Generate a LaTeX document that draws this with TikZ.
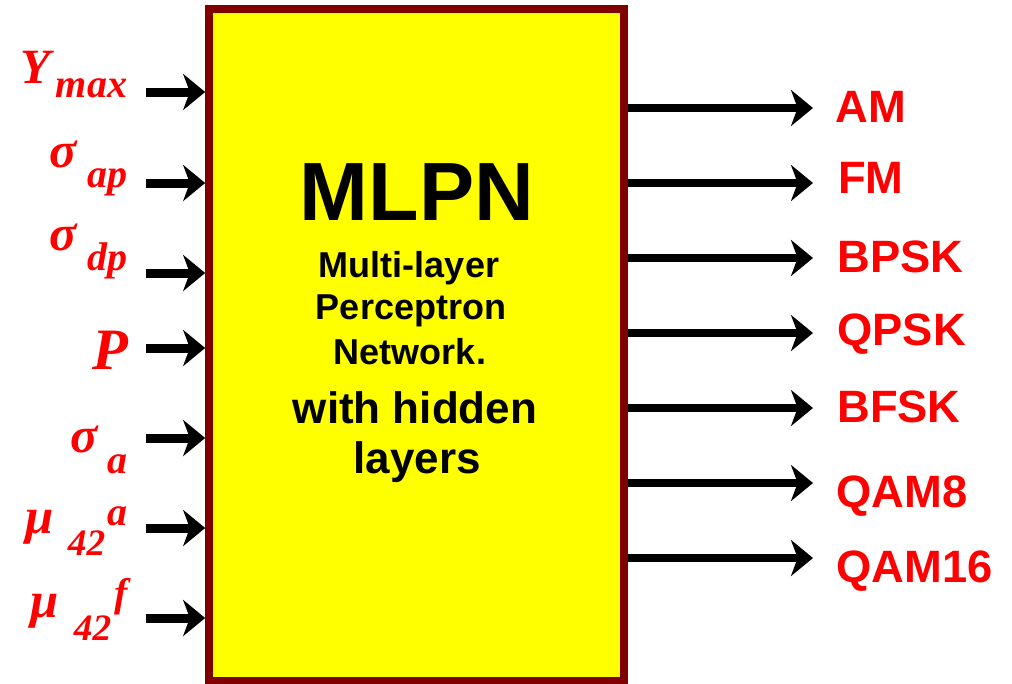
\documentclass[tikz,border=0pt]{standalone}
\usepackage{fontspec}
\setmainfont{Liberation Serif}
\setsansfont{Liberation Sans}
\usetikzlibrary{arrows.meta,positioning}

\definecolor{boxred}{HTML}{800000}
\definecolor{boxyellow}{HTML}{FFFF00}
\definecolor{labelred}{HTML}{FF0000}

\newdimen\px \px=0.75pt
% one piece of a label: x shift, y shift (px), size, text
\newcommand{\piece}[4]{\makebox[0pt][l]{\hspace{#1\px}\raisebox{#2\px}{\fontsize{#3}{#3}\selectfont #4}}}

\begin{document}
\begin{tikzpicture}[x=0.75pt,y=-0.75pt,>={Stealth[length=16.5pt,width=27pt,inset=5pt]},
                    mlpn box/.style={draw=boxred,fill=boxyellow,line width=6pt,minimum width=311pt,minimum height=504pt,inner sep=0pt},
                    in arrow/.style={->,line width=6.75pt},
                    out arrow/.style={->,line width=6.25pt},
                    in label/.style={anchor=base west,inner sep=0pt,text=labelred,font=\bfseries\itshape},
                    out label/.style={anchor=base west,inner sep=0pt,text=labelred,font=\sffamily\bfseries\fontsize{34pt}{34pt}\selectfont},
                    mid text/.style={anchor=base,inner sep=0pt,font=\sffamily\bfseries\fontsize{27pt}{27pt}\selectfont},
                    big text/.style={anchor=base,inner sep=0pt,font=\sffamily\bfseries\fontsize{33pt}{33pt}\selectfont}]

\useasboundingbox[fill=white] (0,0) rectangle (1012,683);

\node[mlpn box] (mlpn) at (416.5,345) {};

\node[anchor=base,inner sep=0pt,font=\sffamily\bfseries\fontsize{62pt}{62pt}\selectfont] (title) at (417,220) {MLPN};
\node[mid text] (multi) at (409,277) {Multi-layer};
\node[mid text] (perc) at (411,319) {Perceptron};
\node[mid text] (netw) at (410,364) {Network.};
\node[big text] (with) at (415,423) {with hidden};
\node[big text] (lay) at (417,473) {layers};

% inputs
\node[in label] (ymax) at (20,83) {\piece{0}{0}{37pt}{Y}\piece{35}{-14}{30pt}{max}};
\node[in label] (sap) at (49,167) {\piece{0}{0}{38pt}{σ}\piece{38}{-20}{30pt}{ap}};
\node[in label] (sdp) at (49,250) {\piece{0}{0}{38pt}{σ}\piece{38}{-20}{30pt}{dp}};
\node[in label] (pw) at (92,369) {\piece{0}{0}{44pt}{P}};
\node[in label] (sa) at (70,452) {\piece{0}{0}{38pt}{σ}\piece{37}{-21}{30pt}{a}};
\node[in label] (mua) at (25,533) {\piece{0}{0}{38pt}{μ}\piece{42}{-22}{28pt}{42}\piece{82}{8}{30pt}{a}};
\node[in label] (muf) at (30,617) {\piece{0}{0}{38pt}{μ}\piece{43}{-23}{28pt}{42}\piece{84}{11}{30pt}{f}};

\foreach \y [count=\i] in {92,183,273,348,438,528,618}{
  \coordinate (in\i) at (146,\y);
  \draw[in arrow] (in\i) -- (in\i -| mlpn.west);
}

% outputs
\foreach \y [count=\i] in {108,183,258,333,408,483,558}{
  \coordinate (out\i) at (813,\y);
  \draw[out arrow] (out\i -| mlpn.east) -- (out\i);
}

\node[out label] (am) at (835,122) {AM};
\node[out label] (fm) at (838,193) {FM};
\node[out label] (bpsk) at (837,272) {BPSK};
\node[out label] (qpsk) at (837,345) {QPSK};
\node[out label] (bfsk) at (837,422) {BFSK};
\node[out label] (qam8) at (836,507) {QAM8};
\node[out label] (qam16) at (836,582) {QAM16};
\end{tikzpicture}
\end{document}
